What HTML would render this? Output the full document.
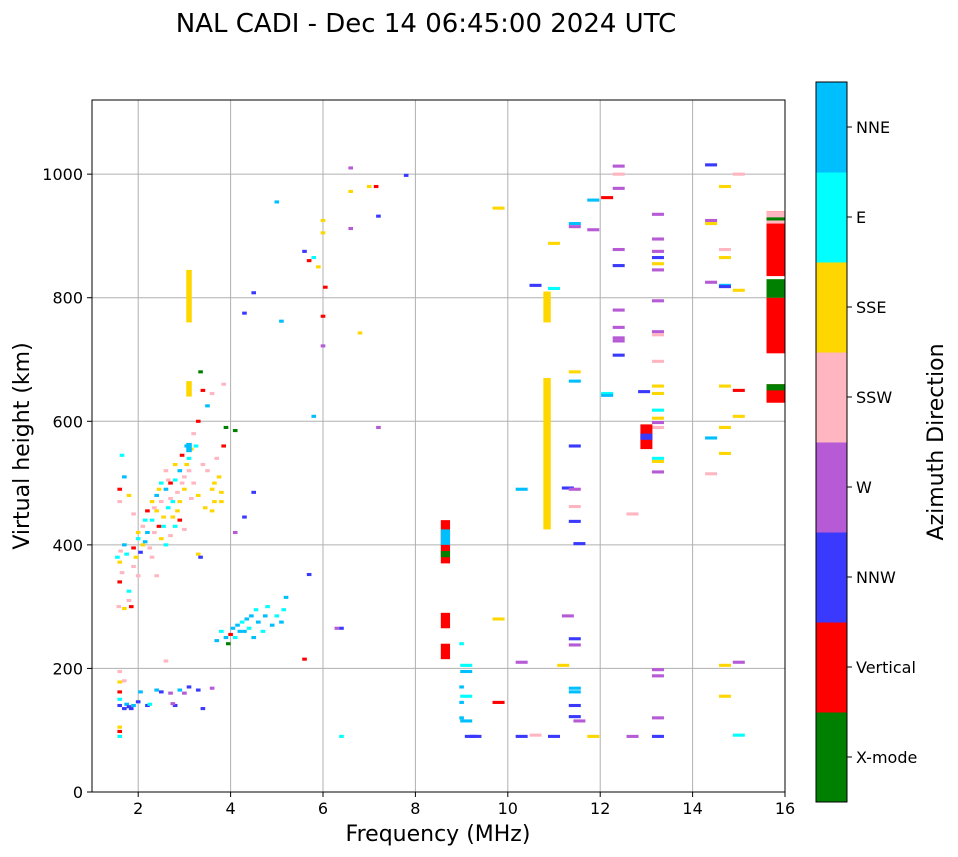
<!DOCTYPE html>
<html><head><meta charset="utf-8">
<style>
html,body{margin:0;padding:0;background:#fff;}
svg{display:block;font-family:"DejaVu Sans","Liberation Sans",sans-serif;}
</style></head>
<body>
<svg id="chart" width="958" height="857" viewBox="0 0 958 857">
<text x="426" y="32" font-size="26" text-anchor="middle">NAL CADI - Dec 14 06:45:00 2024 UTC</text>
<g id="grid"></g>
<g id="marks"></g>
<rect x="92" y="100" width="693" height="692" fill="none" stroke="#000" stroke-width="1"/>
<g id="axes"></g>
<text x="438" y="841" font-size="22" text-anchor="middle">Frequency (MHz)</text>
<text transform="translate(29,446) rotate(-90)" font-size="22" text-anchor="middle">Virtual height (km)</text>
<g id="cbar"></g>
<text transform="translate(943,442) rotate(-90)" font-size="22" text-anchor="middle">Azimuth Direction</text>
</svg>
<script>
const xTicks=[2,4,6,8,10,12,14,16];
const yTicks=[0,200,400,600,800,1000];
const directions=["X-mode","Vertical","NNW","W","SSW","SSE","E","NNE"];
const dirColors=["#008000","#ff0000","#3a3aff","#b65ad6","#ffb6c1","#ffd700","#00ffff","#00bfff"];
// points: [freq MHz, height km, direction index]
const points=[
[1.6,90,6],[1.6,98,1],[1.6,105,5],[1.6,140,2],[1.6,150,6],[1.6,162,1],[1.6,178,5],[1.6,195,4],[1.7,135,2],[1.75,142,7],[1.8,138,2],[1.85,135,2],[1.9,140,7],[2.0,146,2],[2.05,162,7],[2.2,140,2],[2.25,142,6],[2.4,165,7],[2.5,162,2],[2.7,160,3],[2.8,140,2],[2.75,143,3],[2.9,165,7],[3.0,160,3],[3.1,170,2],[3.3,165,2],[3.4,135,2],[3.6,168,3],[2.6,212,4],[1.7,180,4],
[1.55,380,6],[1.6,372,5],[1.62,390,4],[1.65,355,4],[1.6,340,1],[1.58,300,4],[1.7,400,7],[1.75,385,6],[1.7,297,5],[1.8,310,4],[1.85,300,1],[1.8,325,6],[1.9,365,4],[1.9,395,1],[1.95,380,5],[2.0,350,4],[2.0,410,6],[2.05,388,2],[2.1,430,4],[2.1,400,5],[2.15,440,6],[2.2,420,7],[2.2,455,1],[2.25,395,4],[2.3,470,5],[2.3,440,6],[2.35,420,4],[2.4,480,7],[2.4,455,5],[2.45,430,1],[2.5,500,6],[2.5,470,4],[2.55,445,5],[2.6,520,4],[2.6,490,7],[2.65,460,6],[2.7,500,1],[2.7,475,4],[2.75,445,5],[2.8,530,5],[2.8,505,6],[2.85,485,4],[2.9,520,7],[2.9,470,5],[2.95,545,1],[3.0,510,4],[3.0,490,5],[3.05,560,7],[3.1,540,6],[3.1,520,4],[3.15,555,5],[3.2,580,4],[3.2,500,4],[3.25,560,6],[3.3,600,1],[3.3,480,5],[3.4,530,4],[3.45,460,5],[3.5,520,4],[3.6,490,5],[3.65,470,5],[3.7,540,4],[3.75,510,5],[3.8,485,5],[3.85,560,1],[3.9,590,0],[3.85,660,4],[3.4,650,1],[3.35,680,0],[3.5,625,7],[3.6,645,4],[1.6,490,1],[1.6,470,4],[1.65,545,6],[1.7,510,7],[1.8,480,5],[1.9,450,4],[2.3,380,4],[2.4,350,4],[2.5,410,5],[2.6,400,6],[2.7,415,4],[2.8,430,6],[2.9,440,1],[3.0,425,4],[3.3,385,5],[3.35,380,2],[2.0,420,5],[2.15,405,7],[2.35,460,4],[2.45,490,5],[2.55,430,6],[2.65,505,4],[2.75,470,6],[2.85,455,5],[2.95,500,4],[3.05,530,5],[3.15,475,4],[3.6,455,5],[3.65,500,5],[3.8,470,5],
[3.7,245,7],[3.8,260,6],[3.9,250,7],[3.95,240,0],[4.0,255,1],[4.05,265,7],[4.1,250,6],[4.15,270,7],[4.2,260,7],[4.25,275,6],[4.3,260,7],[4.35,280,7],[4.4,265,6],[4.45,285,7],[4.5,250,7],[4.55,295,6],[4.6,275,7],[4.7,260,6],[4.75,285,7],[4.8,300,6],[4.9,270,7],[5.0,285,6],[5.1,275,7],[5.15,295,6],[5.2,315,7],[4.1,420,3],[4.3,445,2],[4.5,485,2],[4.1,585,0],[4.3,775,2],[4.5,808,2],[5.1,762,7],[5.0,955,7],[5.6,875,2],[5.7,860,1],[5.8,865,6],[5.9,850,5],[6.0,925,5],[6.0,905,5],[6.05,817,1],[6.0,770,1],[6.0,722,3],[5.8,608,7],[5.6,215,1],[5.7,352,2],[6.3,265,3],[6.4,265,2],[6.4,90,6],[6.6,1010,3],[6.6,972,5],[6.6,912,3],[6.8,743,5],[7.15,980,1],[7.2,932,2],[7.8,998,2],[7.2,590,3],[7.0,980,5],
[9.0,240,6],[9.0,170,7],[9.1,195,7],[9.1,205,6],[9.0,145,7],[9.1,155,6],[9.0,120,7],[9.1,115,7],[9.2,90,2],[9.3,90,2],[9.8,145,1],[9.8,280,5],[9.8,945,5],[10.3,490,7],[10.3,210,3],[10.3,90,2],[10.6,92,4],[10.6,820,2],[11.0,815,6],[11.0,888,5],[11.0,90,2],[11.2,205,5],[11.3,285,3],[11.3,492,2],[11.45,920,7],[11.45,915,3],[11.45,680,5],[11.45,665,7],[11.45,560,2],[11.45,490,3],[11.45,462,4],[11.45,438,2],[11.55,402,2],[11.45,248,2],[11.45,238,3],[11.45,168,7],[11.45,162,7],[11.45,140,2],[11.45,122,2],[11.55,115,3],[11.85,958,7],[11.85,910,3],[11.85,90,5],[12.15,962,1],[12.15,645,6],[12.15,642,7],[12.4,1013,3],[12.4,1000,4],[12.4,977,3],[12.4,878,3],[12.4,852,2],[12.4,780,3],[12.4,752,3],[12.4,735,3],[12.4,730,3],[12.4,707,2],[12.7,450,4],[12.7,90,3],[12.95,648,2],[13.25,935,3],[13.25,895,3],[13.25,875,3],[13.25,865,2],[13.25,855,5],[13.25,845,3],[13.25,795,3],[13.25,745,3],[13.25,740,4],[13.25,697,4],[13.25,657,5],[13.25,645,5],[13.25,618,6],[13.25,605,5],[13.25,598,3],[13.25,590,4],[13.25,540,6],[13.25,535,5],[13.25,518,3],[13.25,198,3],[13.25,188,3],[13.25,120,3],[13.25,90,2],[14.4,1015,2],[14.4,925,3],[14.4,920,5],[14.4,825,3],[14.4,573,7],[14.4,515,4],[14.7,980,5],[14.7,878,4],[14.7,865,5],[14.7,820,7],[14.7,818,2],[14.7,657,5],[14.7,590,5],[14.7,548,5],[14.7,205,5],[14.7,155,5],[15.0,1000,4],[15.0,812,5],[15.0,650,1],[15.0,608,5],[15.0,210,3],[15.0,92,6]
];
// vertical runs: [freq, h0, h1, direction]
const runs=[
[3.1,760,845,5],[3.1,640,665,5],[3.1,550,565,7],[8.65,370,440,1],[8.65,400,425,7],[8.65,380,390,0],[8.65,265,290,1],[8.65,215,240,1],[10.85,425,670,5],[10.85,760,810,5],[13.0,555,595,1],[13.0,570,580,2],[15.8,630,660,1],[15.8,650,660,0],[15.8,710,800,1],[15.8,800,830,0],[15.8,835,940,1],[15.8,920,940,4],[15.8,925,930,0]
];
const X0=92,X1=785,Y0=792,Y1=100;
const xs=f=>X0+(f-1)/(16-1)*(X1-X0);
const ys=h=>Y0-h/1120*(Y0-Y1);
const NS="http://www.w3.org/2000/svg";
function mk(tag,attrs,parent){const e=document.createElementNS(NS,tag);for(const k in attrs)e.setAttribute(k,attrs[k]);parent.appendChild(e);return e;}
const grid=document.getElementById('grid'),axes=document.getElementById('axes'),marks=document.getElementById('marks'),cbar=document.getElementById('cbar');
xTicks.forEach(t=>{const x=xs(t);
 const g=mk('line',{x1:x,x2:x,y1:Y1,y2:Y0,stroke:'#b0b0b0','stroke-width':1},grid);
 
 mk('line',{x1:x,x2:x,y1:Y0,y2:Y0+5,stroke:'#000'},axes);
 const tx=mk('text',{x:x,y:Y0+22,'font-size':16,'text-anchor':'middle'},axes);tx.textContent=t;
 });
yTicks.forEach(t=>{const y=ys(t);
 const g=mk('line',{x1:X0,x2:X1,y1:y,y2:y,stroke:'#b0b0b0','stroke-width':1},grid);
 
 mk('line',{x1:X0-5,x2:X0,y1:y,y2:y,stroke:'#000'},axes);
 const tx=mk('text',{x:X0-9,y:y+6,'font-size':16,'text-anchor':'end'},axes);tx.textContent=t;
 });
const dh=5;
points.forEach(p=>{const dw=p[0]>9?0.26:0.1;
 const r=mk('rect',{x:xs(p[0]-dw/2),y:ys(p[1]+dh/2),width:xs(dw)-xs(0),height:ys(0)-ys(dh),fill:dirColors[p[2]]},marks);
 });
runs.forEach(p=>{const w=(p[0]>15?0.4:(p[0]>12?0.26:(p[0]>10?0.16:(p[0]>8?0.2:0.12))));
 const r=mk('rect',{x:xs(p[0]-w/2),y:ys(p[2]),width:xs(w)-xs(0),height:ys(p[1])-ys(p[2]),fill:dirColors[p[3]]},marks);
 });
const CX=816,CW=31,CT=82,CB=802,seg=(CB-CT)/directions.length;
directions.forEach((d,i)=>{const y=CB-(i+1)*seg;
 const r=mk('rect',{x:CX,y:y,width:CW,height:seg+0.5,fill:dirColors[i]},cbar);
 
 mk('line',{x1:CX+CW,x2:CX+CW+5,y1:y+seg/2,y2:y+seg/2,stroke:'#000'},cbar);
 const tx=mk('text',{x:CX+CW+9,y:y+seg/2+6,'font-size':16},cbar);tx.textContent=d;
 });
mk('rect',{x:CX,y:CT,width:CW,height:CB-CT,fill:'none',stroke:'#000'},cbar);
</script>
</body></html>
